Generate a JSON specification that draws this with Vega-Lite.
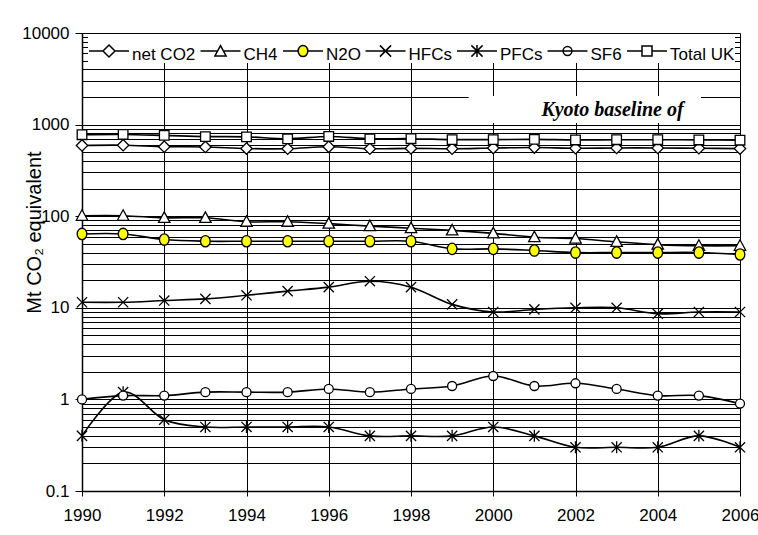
{
  "$schema": "https://vega.github.io/schema/vega-lite/v6.json",
  "width": 658,
  "height": 458,
  "autosize": {"type": "none"},
  "padding": {"left": 82, "top": 33, "right": 18, "bottom": 44},
  "background": "white",
  "config": {"view": {"stroke": null}, "font": "Liberation Sans, Arial"},
  "datasets": {
    "emis": [
      {"year":1990,"series":"net CO2","value":592},{"year":1991,"series":"net CO2","value":596},{"year":1992,"series":"net CO2","value":574},{"year":1993,"series":"net CO2","value":570},{"year":1994,"series":"net CO2","value":548},{"year":1995,"series":"net CO2","value":545},{"year":1996,"series":"net CO2","value":572},{"year":1997,"series":"net CO2","value":545},{"year":1998,"series":"net CO2","value":550},{"year":1999,"series":"net CO2","value":545},{"year":2000,"series":"net CO2","value":555},{"year":2001,"series":"net CO2","value":562},{"year":2002,"series":"net CO2","value":552},{"year":2003,"series":"net CO2","value":556},{"year":2004,"series":"net CO2","value":556},{"year":2005,"series":"net CO2","value":552},{"year":2006,"series":"net CO2","value":547},
      {"year":1990,"series":"CH4","value":101},{"year":1991,"series":"CH4","value":101},{"year":1992,"series":"CH4","value":96},{"year":1993,"series":"CH4","value":96},{"year":1994,"series":"CH4","value":87},{"year":1995,"series":"CH4","value":87},{"year":1996,"series":"CH4","value":83},{"year":1997,"series":"CH4","value":78},{"year":1998,"series":"CH4","value":74},{"year":1999,"series":"CH4","value":70},{"year":2000,"series":"CH4","value":65},{"year":2001,"series":"CH4","value":59},{"year":2002,"series":"CH4","value":57},{"year":2003,"series":"CH4","value":52.5},{"year":2004,"series":"CH4","value":49},{"year":2005,"series":"CH4","value":47.5},{"year":2006,"series":"CH4","value":47.5},
      {"year":1990,"series":"N2O","value":64},{"year":1991,"series":"N2O","value":64},{"year":1992,"series":"N2O","value":55.6},{"year":1993,"series":"N2O","value":53.3},{"year":1994,"series":"N2O","value":53.3},{"year":1995,"series":"N2O","value":53.3},{"year":1996,"series":"N2O","value":53.3},{"year":1997,"series":"N2O","value":53.3},{"year":1998,"series":"N2O","value":53.3},{"year":1999,"series":"N2O","value":44},{"year":2000,"series":"N2O","value":44},{"year":2001,"series":"N2O","value":42.2},{"year":2002,"series":"N2O","value":40.1},{"year":2003,"series":"N2O","value":40.1},{"year":2004,"series":"N2O","value":40.1},{"year":2005,"series":"N2O","value":40.1},{"year":2006,"series":"N2O","value":38.2},
      {"year":1990,"series":"HFCs","value":11.5},{"year":1991,"series":"HFCs","value":11.5},{"year":1992,"series":"HFCs","value":12.0},{"year":1993,"series":"HFCs","value":12.5},{"year":1994,"series":"HFCs","value":13.7},{"year":1995,"series":"HFCs","value":15.2},{"year":1996,"series":"HFCs","value":16.8},{"year":1997,"series":"HFCs","value":19.5},{"year":1998,"series":"HFCs","value":16.8},{"year":1999,"series":"HFCs","value":10.9},{"year":2000,"series":"HFCs","value":9.0},{"year":2001,"series":"HFCs","value":9.6},{"year":2002,"series":"HFCs","value":10.0},{"year":2003,"series":"HFCs","value":10.0},{"year":2004,"series":"HFCs","value":8.6},{"year":2005,"series":"HFCs","value":9.0},{"year":2006,"series":"HFCs","value":9.0},
      {"year":1990,"series":"PFCs","value":0.4},{"year":1991,"series":"PFCs","value":1.2},{"year":1992,"series":"PFCs","value":0.6},{"year":1993,"series":"PFCs","value":0.5},{"year":1994,"series":"PFCs","value":0.5},{"year":1995,"series":"PFCs","value":0.5},{"year":1996,"series":"PFCs","value":0.5},{"year":1997,"series":"PFCs","value":0.4},{"year":1998,"series":"PFCs","value":0.4},{"year":1999,"series":"PFCs","value":0.4},{"year":2000,"series":"PFCs","value":0.5},{"year":2001,"series":"PFCs","value":0.4},{"year":2002,"series":"PFCs","value":0.3},{"year":2003,"series":"PFCs","value":0.3},{"year":2004,"series":"PFCs","value":0.3},{"year":2005,"series":"PFCs","value":0.4},{"year":2006,"series":"PFCs","value":0.3},
      {"year":1990,"series":"SF6","value":1.0},{"year":1991,"series":"SF6","value":1.1},{"year":1992,"series":"SF6","value":1.1},{"year":1993,"series":"SF6","value":1.2},{"year":1994,"series":"SF6","value":1.2},{"year":1995,"series":"SF6","value":1.2},{"year":1996,"series":"SF6","value":1.3},{"year":1997,"series":"SF6","value":1.2},{"year":1998,"series":"SF6","value":1.3},{"year":1999,"series":"SF6","value":1.4},{"year":2000,"series":"SF6","value":1.8},{"year":2001,"series":"SF6","value":1.4},{"year":2002,"series":"SF6","value":1.5},{"year":2003,"series":"SF6","value":1.3},{"year":2004,"series":"SF6","value":1.1},{"year":2005,"series":"SF6","value":1.1},{"year":2006,"series":"SF6","value":0.9},
      {"year":1990,"series":"Total UK","value":776},{"year":1991,"series":"Total UK","value":781},{"year":1992,"series":"Total UK","value":762},{"year":1993,"series":"Total UK","value":740},{"year":1994,"series":"Total UK","value":735},{"year":1995,"series":"Total UK","value":700},{"year":1996,"series":"Total UK","value":742},{"year":1997,"series":"Total UK","value":700},{"year":1998,"series":"Total UK","value":702},{"year":1999,"series":"Total UK","value":686},{"year":2000,"series":"Total UK","value":686},{"year":2001,"series":"Total UK","value":690},{"year":2002,"series":"Total UK","value":680},{"year":2003,"series":"Total UK","value":684},{"year":2004,"series":"Total UK","value":684},{"year":2005,"series":"Total UK","value":680},{"year":2006,"series":"Total UK","value":676}
    ],
    "note": [{"x1":1999.4,"x2":2005.05,"y1":1040,"y2":2050,"tx":2002.9,"ty":1430,"label":"Kyoto baseline of"}]
  },
  "resolve": {"scale": {"shape": "independent", "fill": "independent"}, "legend": {"shape": "independent", "fill": "independent"}},
  "layer": [
    {
      "data": {"name": "emis"},
      "mark": {"type": "line", "interpolate": "cardinal", "color": "black", "strokeWidth": 1.6},
      "encoding": {
        "x": {"field": "year", "type": "quantitative",
          "scale": {"domain": [1990, 2006], "nice": false, "zero": false},
          "axis": {"values": [1990,1992,1994,1996,1998,2000,2002,2004,2006], "format": "d", "title": null,
            "grid": true, "gridColor": "black", "gridWidth": 1, "domainColor": "black", "domainWidth": 1.5,
            "tickColor": "black", "tickSize": 5, "labelFontSize": 17, "labelColor": "black", "labelPadding": 11, "labelFlush": false}},
        "y": {"field": "value", "type": "quantitative",
          "scale": {"type": "log", "domain": [0.1, 10000], "nice": false},
          "axis": {"values": [0.1,0.2,0.3,0.4,0.5,0.6,0.7,0.8,0.9,1,2,3,4,5,6,7,8,9,10,20,30,40,50,60,70,80,90,100,200,300,400,500,600,700,800,900,1000,2000,3000,4000,5000,6000,7000,8000,9000,10000],
            "labelExpr": "indexof([0.1,1,10,100,1000,10000], datum.value) >= 0 ? format(datum.value, '~g') : ''",
            "title": "Mt CO₂ equivalent", "titleFontSize": 20, "titleFontWeight": "normal", "titleColor": "black",
            "titleX": -42, "titleY": 199, "titleAngle": 270, "titleBaseline": "alphabetic", "titleAlign": "center",
            "grid": true, "gridColor": "black", "gridWidth": 1, "domainColor": "black", "domainWidth": 1.5,
            "tickColor": "black", "tickSize": 7,
            "tickOpacity": {"condition": {"test": "indexof([0.1,1,10,100,1000,10000], datum.value) >= 0", "value": 1}, "value": 0},
            "labelFontSize": 17, "labelColor": "black", "labelPadding": 6}},
        "detail": {"field": "series"}
      }
    },
    {
      "data": {"name": "emis"},
      "mark": {"type": "point", "filled": true, "stroke": "black", "strokeWidth": 1.3, "size": 144, "opacity": 1},
      "encoding": {
        "x": {"field": "year", "type": "quantitative"},
        "y": {"field": "value", "type": "quantitative"},
        "shape": {"field": "series", "type": "nominal",
          "scale": {"domain": ["net CO2","CH4","N2O","HFCs","PFCs","SF6","Total UK"],
            "range": ["M0,-0.95L0.95,0L0,0.95L-0.95,0Z",
                      "M0,-1L0.95,0.75L-0.95,0.75Z",
                      "M-0.8,0A0.8,0.95 0 1,1 0.8,0A0.8,0.95 0 1,1 -0.8,0Z",
                      "M-0.85,-0.85L0.85,0.85M-0.85,0.85L0.85,-0.85",
                      "M-0.85,-0.85L0.85,0.85M-0.85,0.85L0.85,-0.85M0,-1L0,1",
                      "M-0.75,0A0.75,0.75 0 1,1 0.75,0A0.75,0.75 0 1,1 -0.75,0Z",
                      "M-0.8,-0.8H0.8V0.8H-0.8Z"]},
          "legend": null},
        "fill": {"field": "series", "type": "nominal",
          "scale": {"domain": ["net CO2","CH4","N2O","HFCs","PFCs","SF6","Total UK"],
            "range": ["white","white","#ffff00","white","white","white","white"]},
          "legend": null}
      }
    },
    {
      "data": {"name": "emis"},
      "transform": [{"filter": "datum.year > 3000"}],
      "mark": {"type": "point", "filled": true, "stroke": "black", "strokeWidth": 1.3, "size": 1600, "opacity": 1},
      "encoding": {
        "x": {"field": "year", "type": "quantitative"},
        "y": {"field": "value", "type": "quantitative"},
        "fill": {"field": "series", "type": "nominal",
          "scale": {"domain": ["net CO2","CH4","N2O","HFCs","PFCs","SF6","Total UK"],
            "range": ["white","white","#ffff00","white","white","white","white"]},
          "legend": null},
        "shape": {"field": "series", "type": "nominal",
          "scale": {"domain": ["net CO2","CH4","N2O","HFCs","PFCs","SF6","Total UK"],
            "range": ["M-1,-0.2H-0.3M0.3,-0.2H1M0,-0.5L0.3,-0.2L0,0.1L-0.3,-0.2Z",
                      "M-1,-0.2H-0.15M0.15,-0.2H1M0,-0.47L0.28,0.05L-0.28,0.05Z",
                      "M-1,-0.2H-0.24M0.24,-0.2H1M-0.24,-0.2A0.24,0.28 0 1,1 0.24,-0.2A0.24,0.28 0 1,1 -0.24,-0.2Z",
                      "M-1,-0.2H1M-0.28,-0.48L0.28,0.08M-0.28,0.08L0.28,-0.48",
                      "M-1,-0.2H1M-0.28,-0.48L0.28,0.08M-0.28,0.08L0.28,-0.48M0,-0.5V0.1",
                      "M-1,-0.2H1M-0.22,-0.2A0.22,0.22 0 1,1 0.22,-0.2A0.22,0.22 0 1,1 -0.22,-0.2Z",
                      "M-1,-0.2H-0.25M0.25,-0.2H1M-0.25,-0.45H0.25V0.05H-0.25Z"]},
          "legend": {"title": null, "orient": "none", "legendX": 6, "legendY": 1, "direction": "horizontal", "columns": 7,
            "fillColor": "white", "padding": 0, "symbolSize": 1600, "labelOffset": 2, "columnPadding": 1.5,
            "labelFontSize": 17, "labelColor": "black", "labelLimit": 200,
            "encode": {
              "symbols": {
                "stroke": {"value": "black"},
                "strokeWidth": {"value": 1.3},
                "size": {"value": 1600},
                "opacity": {"value": 1}
              },
              "labels": {"dy": {"value": -4}}
            }}}
      }
    },
    {
      "data": {"name": "note"},
      "mark": {"type": "rect", "fill": "white"},
      "encoding": {
        "x": {"field": "x1", "type": "quantitative"},
        "x2": {"field": "x2"},
        "y": {"field": "y1", "type": "quantitative"},
        "y2": {"field": "y2"}
      }
    },
    {
      "data": {"name": "note"},
      "mark": {"type": "text", "font": "Liberation Serif", "fontSize": 20, "fontWeight": "bold", "fontStyle": "italic", "color": "black"},
      "encoding": {
        "x": {"field": "tx", "type": "quantitative"},
        "y": {"field": "ty", "type": "quantitative"},
        "text": {"field": "label"}
      }
    }
  ]
}
